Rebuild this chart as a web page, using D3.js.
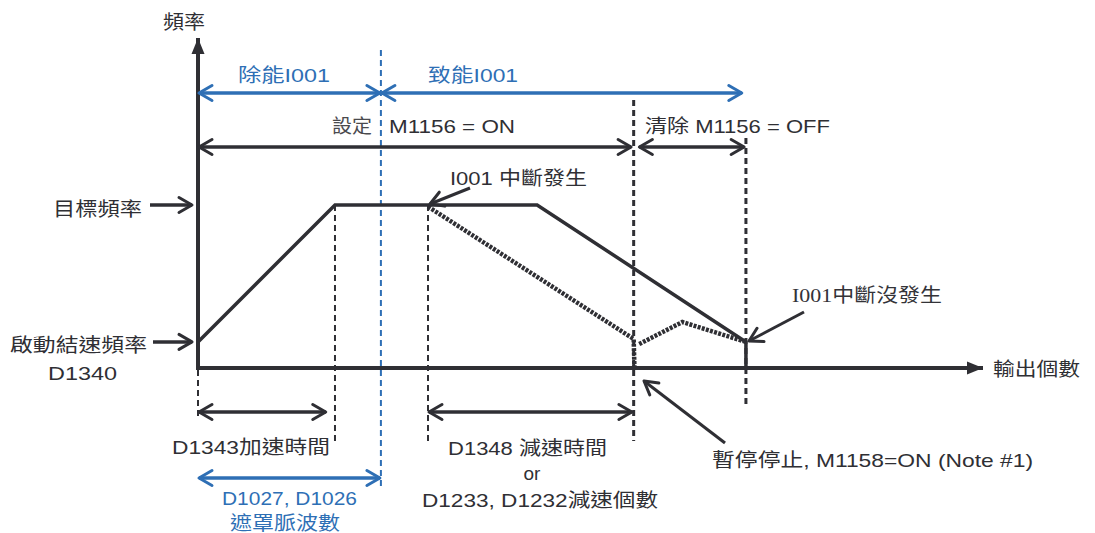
<!DOCTYPE html>
<html>
<head>
<meta charset="utf-8">
<script src="https://cdn.jsdelivr.net/npm/d3@7"></script>
<style>
  html, body { margin: 0; padding: 0; background: #fff; }
  svg { display: block; }
  text { font-family: "Liberation Sans", Arial, "Noto Sans CJK TC", sans-serif; font-size: 19px; fill: #333338; }
</style>
</head>
<body>
<div id="chart"></div>
<script>
const width = 1095;
const height = 533;

// output pulses on x (0..100), frequency on y (0..100)
const startFreq = 16;
const targetFreq = 100;
const normalProfile = [[0, 16], [17.45, 100], [43.2, 100], [69.8, 16], [69.8, 0]];
const interruptProfile = [[29.3, 99], [55.5, 17.8], [55.6, 0]];
const resumeProfile = [[56.2, 14.7], [61.7, 28.2], [69.8, 16]];
const dashMarks = [17.45, 29.3];          // accel end, interrupt point
const stateMarks = [55.5, 69.8];          // decel end / stop, clear M1156
const maskEnd = 23.3;

const blueSpans = [[0, maskEnd], [maskEnd, 69.4]];
const blackSpans = [[0, 55.3], [56.1, 69.7]];
const bottomSpans = [[0, 16.4], [29.3, 55.4]];

const x = d3.scaleLinear().domain([0, 100]).range([198, 983]);
const y = d3.scaleLinear().domain([0, 100]).range([368, 205]);

const ink = '#2f2f34';
const blue = '#2e6fb5';

const svg = d3.select('#chart').append('svg')
  .attr('width', width).attr('height', height);

const defs = svg.append('defs');
function chevron(id, color) {
  defs.append('marker').attr('id', id)
    .attr('markerUnits', 'userSpaceOnUse')
    .attr('viewBox', '-16 -10 20 20').attr('refX', 0).attr('refY', 0)
    .attr('markerWidth', 20).attr('markerHeight', 20)
    .attr('orient', 'auto-start-reverse')
    .append('path').attr('d', 'M-13,-7.5 L0,0 L-13,7.5')
    .attr('fill', 'none').attr('stroke', color).attr('stroke-width', 3)
    .attr('stroke-linejoin', 'round').attr('stroke-linecap', 'round');
}
chevron('chev', ink);
chevron('chevBlue', blue);
defs.append('marker').attr('id', 'tri')
  .attr('markerUnits', 'userSpaceOnUse')
  .attr('viewBox', '-18 -10 20 20').attr('refX', 0).attr('refY', 0)
  .attr('markerWidth', 20).attr('markerHeight', 20)
  .attr('orient', 'auto')
  .append('path').attr('d', 'M-16,-6.5 L0,0 L-16,6.5Z').attr('fill', ink);

const line = d3.line().x(d => x(d[0])).y(d => y(d[1]));

// dashed guide lines (behind)
svg.selectAll('.guide').data(dashMarks).join('line')
  .attr('x1', d => x(d)).attr('x2', d => x(d))
  .attr('y1', y(targetFreq)).attr('y2', 441)
  .attr('stroke', ink).attr('stroke-width', 2).attr('stroke-dasharray', '6,4');
svg.append('line')
  .attr('x1', x(0)).attr('x2', x(0)).attr('y1', 370).attr('y2', 418)
  .attr('stroke', ink).attr('stroke-width', 2).attr('stroke-dasharray', '6,4');
svg.selectAll('.state').data(stateMarks).join('line')
  .attr('x1', d => x(d)).attr('x2', d => x(d))
  .attr('y1', (d, i) => i === 0 ? 100 : 138).attr('y2', (d, i) => i === 0 ? 441 : 405)
  .attr('stroke', ink).attr('stroke-width', 3).attr('stroke-dasharray', '6,4');
svg.append('line')
  .attr('x1', x(maskEnd)).attr('x2', x(maskEnd)).attr('y1', 50).attr('y2', 490)
  .attr('stroke', blue).attr('stroke-width', 2).attr('stroke-dasharray', '6,4');

// axes
svg.append('line')
  .attr('x1', x(0)).attr('y1', y(0) + 2).attr('x2', x(0)).attr('y2', 38)
  .attr('stroke', ink).attr('stroke-width', 4).attr('marker-end', 'url(#tri)');
svg.append('line')
  .attr('x1', x(0) - 2).attr('y1', y(0)).attr('x2', x(100)).attr('y2', y(0))
  .attr('stroke', ink).attr('stroke-width', 4).attr('marker-end', 'url(#tri)');

// speed profiles
svg.append('path').datum(normalProfile).attr('d', line)
  .attr('fill', 'none').attr('stroke', ink).attr('stroke-width', 3.5);
[interruptProfile, resumeProfile].forEach(p => {
  svg.append('path').datum(p).attr('d', line)
    .attr('fill', 'none').attr('stroke', ink).attr('stroke-width', 4.5)
    .attr('stroke-dasharray', '3,1.3');
});

// span arrows
function span(d, yy, color, marker) {
  svg.append('line')
    .attr('x1', x(d[0]) + 1).attr('x2', x(d[1]) - 1).attr('y1', yy).attr('y2', yy)
    .attr('stroke', color).attr('stroke-width', 3.5)
    .attr('marker-start', `url(#${marker})`).attr('marker-end', `url(#${marker})`);
}
blueSpans.forEach(d => span(d, 93, blue, 'chevBlue'));
blackSpans.forEach(d => span(d, 147, ink, 'chev'));
bottomSpans.forEach(d => span(d, 412, ink, 'chev'));
span([0, maskEnd], 478, blue, 'chevBlue');

// level pointers on the left
[[targetFreq, 150], [startFreq, 153]].forEach(([f, x0]) => {
  svg.append('line')
    .attr('x1', x0).attr('x2', x(0) - 6).attr('y1', y(f)).attr('y2', y(f))
    .attr('stroke', ink).attr('stroke-width', 3.5).attr('marker-end', 'url(#chev)');
});

// callout arrows
const callouts = [[[470, 188], [430, 204]], [[804, 312], [749, 341]], [[725, 443], [644, 381]]];
callouts.forEach(c => {
  svg.append('line')
    .attr('x1', c[0][0]).attr('y1', c[0][1]).attr('x2', c[1][0]).attr('y2', c[1][1])
    .attr('stroke', ink).attr('stroke-width', 3).attr('marker-end', 'url(#chev)');
});

// texts: [text, x, y, anchor, width, color]
const labels = [
  ['頻率', 163, 29, 'start', 42, ink],
  ['除能I001', 238, 82, 'start', 92, blue],
  ['致能I001', 428, 82, 'start', 90, blue],
  ['設定', 332, 133, 'start', 40, '#4a4a4e'],
  ['M1156 = ON', 389, 133, 'start', 126, ink],
  ['清除 M1156 = OFF', 645, 133, 'start', 185, ink],
  ['I001 中斷發生', 450, 185, 'start', 137, ink],
  ['目標頻率', 53, 216, 'start', 89, ink],
  ['啟動結速頻率', 10, 352, 'start', 137, ink],
  ['D1340', 48, 380, 'start', 69, ink],
  ['輸出個數', 993, 376, 'start', 87, ink],
  ['D1343加速時間', 172, 454, 'start', 158, ink],
  ['D1027, D1026', 222, 505, 'start', 135, blue],
  ['遮罩脈波數', 230, 530, 'start', 110, blue],
  ['D1348 減速時間', 448, 455, 'start', 159, ink],
  ['or', 532, 480, 'middle', 0, ink],
  ['D1233, D1232減速個數', 422, 507, 'start', 236, ink],
  ['暫停停止, M1158=ON (Note #1)', 712, 467, 'start', 321, ink]
];
svg.selectAll('.lbl').data(labels).join('text')
  .attr('x', d => d[1]).attr('y', d => d[2])
  .attr('text-anchor', d => d[3])
  .style('fill', d => d[5])
  .attr('textLength', d => d[4] || null)
  .attr('lengthAdjust', 'spacingAndGlyphs')
  .text(d => d[0]);

// serif callout
svg.append('text').attr('x', 792).attr('y', 302)
  .style('font-family', '"Liberation Serif", "Noto Sans CJK TC", serif')
  .attr('textLength', 150).attr('lengthAdjust', 'spacingAndGlyphs')
  .text('I001中斷沒發生');
</script>
</body>
</html>
